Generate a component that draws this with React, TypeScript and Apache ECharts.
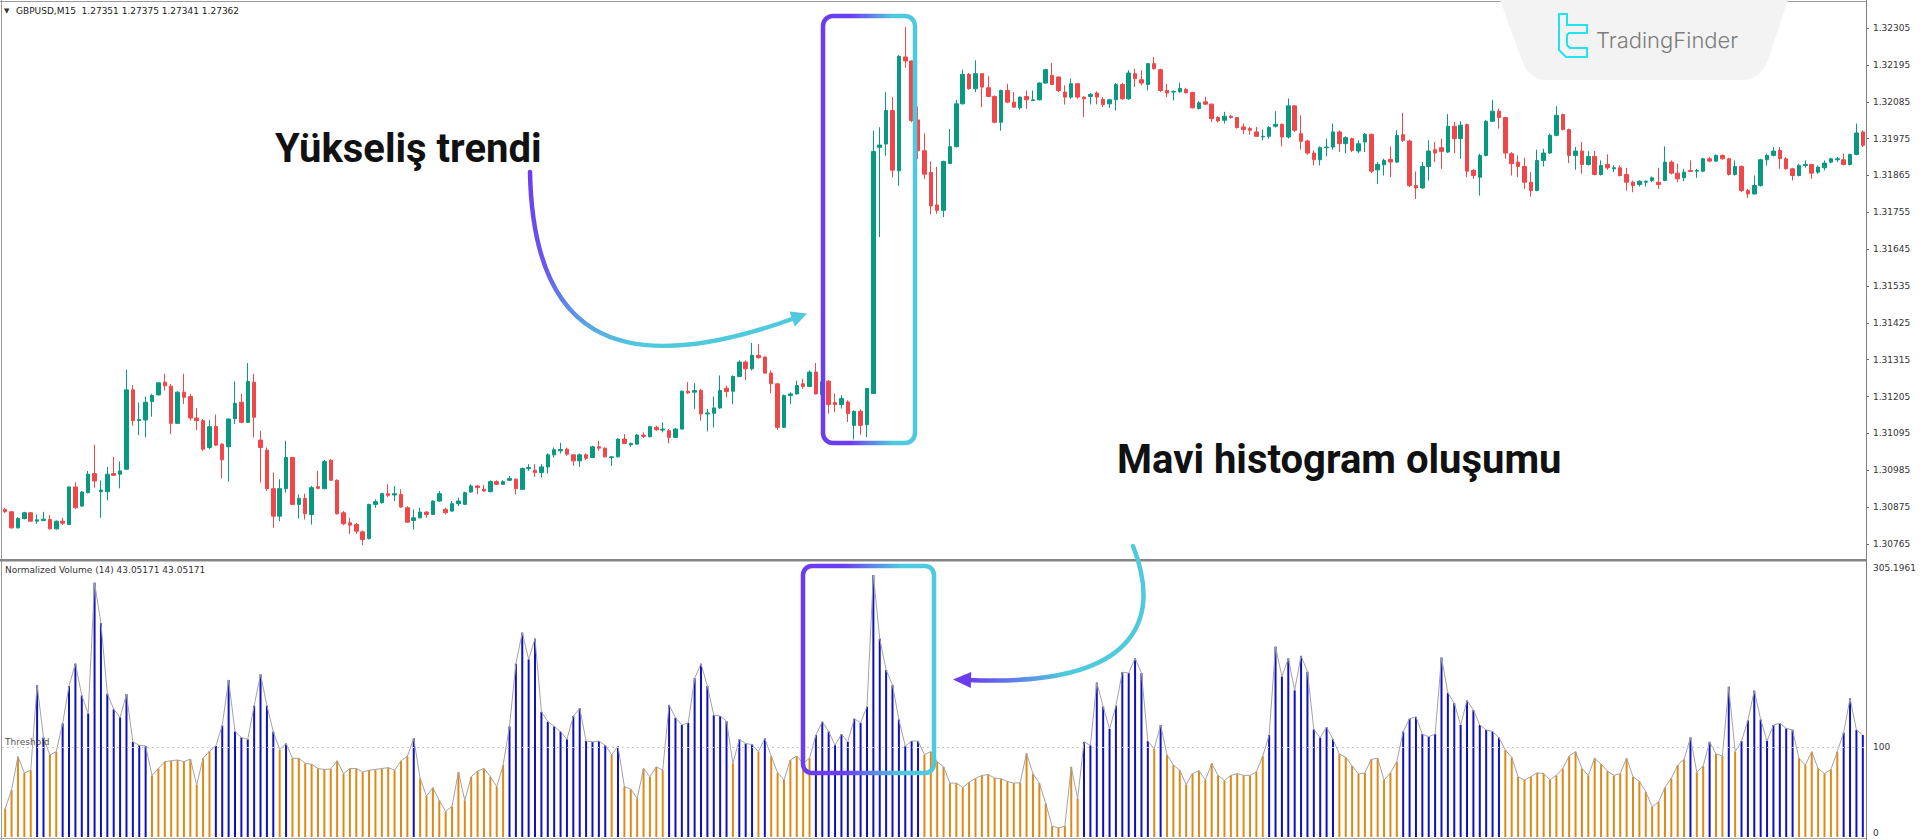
import React, { useEffect, useRef } from 'react';
import * as echarts from 'echarts';

// ---------- data ----------
const candleOpen = [
  1.30868, 1.30861, 1.30813, 1.30841, 1.30858, 1.30833, 1.30835, 1.30838, 1.30810, 1.30833,
  1.30823, 1.30935, 1.30878, 1.30918, 1.30975, 1.30921, 1.30921, 1.30975, 1.30973, 1.30988,
  1.31225, 1.31133, 1.31135, 1.31190, 1.31210, 1.31248, 1.31236, 1.31125, 1.31218, 1.31205,
  1.31141, 1.31133, 1.31053, 1.31116, 1.31063, 1.31055, 1.31139, 1.31188, 1.31128, 1.31248,
  1.31075, 1.31045, 1.30930, 1.30848, 1.30930, 1.31023, 1.30883, 1.30901, 1.30853, 1.30936,
  1.30930, 1.31015, 1.30955, 1.30858, 1.30828, 1.30823, 1.30801, 1.30781, 1.30883, 1.30888,
  1.30915, 1.30911, 1.30913, 1.30873, 1.30835, 1.30843, 1.30860, 1.30853, 1.30893, 1.30868,
  1.30863, 1.30885, 1.30883, 1.30920, 1.30938, 1.30928, 1.30921, 1.30951, 1.30943, 1.30955,
  1.30958, 1.30928, 1.30990, 1.30985, 1.30978, 1.30995, 1.31031, 1.31043, 1.31048, 1.31031,
  1.31013, 1.31031, 1.31023, 1.31055, 1.31051, 1.31023, 1.31025, 1.31078, 1.31061, 1.31063,
  1.31090, 1.31085, 1.31113, 1.31105, 1.31103, 1.31083, 1.31108, 1.31221, 1.31218, 1.31223,
  1.31153, 1.31155, 1.31171, 1.31230, 1.31221, 1.31265, 1.31308, 1.31288, 1.31328, 1.31323,
  1.31275, 1.31243, 1.31113, 1.31208, 1.31213, 1.31243, 1.31235, 1.31278, 1.31211, 1.31251,
  1.31187, 1.31181, 1.31189, 1.31119, 1.31161, 1.31121, 1.31214, 1.31949, 1.31959, 1.32059,
  1.31879, 1.32219, 1.32207, 1.32031, 1.31939, 1.31874, 1.31777, 1.31761, 1.31901, 1.31951,
  1.32079, 1.32167, 1.32124, 1.32169, 1.32127, 1.32101, 1.32024, 1.32119, 1.32084, 1.32067,
  1.32101, 1.32089, 1.32091, 1.32141, 1.32164, 1.32159, 1.32114, 1.32099, 1.32139, 1.32099,
  1.32101, 1.32111, 1.32092, 1.32079, 1.32091, 1.32137, 1.32094, 1.32169, 1.32151, 1.32137,
  1.32199, 1.32181, 1.32119, 1.32114, 1.32115, 1.32122, 1.32113, 1.32065, 1.32085, 1.32078,
  1.32038, 1.32030, 1.32042, 1.32038, 1.32010, 1.32005, 1.31995, 1.31980, 1.31982, 1.32012,
  1.32018, 1.31980, 1.32073, 1.31990, 1.31968, 1.31932, 1.31912, 1.31948, 1.31950, 1.31995,
  1.31960, 1.31975, 1.31938, 1.31965, 1.31988, 1.31882, 1.31897, 1.31913, 1.31905, 1.31987,
  1.31968, 1.31835, 1.31828, 1.31892, 1.31942, 1.31948, 1.31935, 1.32012, 1.31975, 1.32017,
  1.31880, 1.31860, 1.31925, 1.32027, 1.32057, 1.32038, 1.31930, 1.31905, 1.31892, 1.31845,
  1.31820, 1.31910, 1.31932, 1.31985, 1.32047, 1.32002, 1.31925, 1.31938, 1.31898, 1.31922,
  1.31868, 1.31898, 1.31885, 1.31888, 1.31868, 1.31845, 1.31838, 1.31845, 1.31850, 1.31845,
  1.31850, 1.31905, 1.31872, 1.31858, 1.31880, 1.31878, 1.31878, 1.31915, 1.31908, 1.31925,
  1.31915, 1.31868, 1.31892, 1.31820, 1.31810, 1.31835, 1.31912, 1.31925, 1.31940, 1.31915,
  1.31885, 1.31865, 1.31895, 1.31898, 1.31875, 1.31888, 1.31905, 1.31912, 1.31912, 1.31898,
  1.31928, 1.31995,
];

const candleClose = [
  1.30861, 1.30813, 1.30841, 1.30858, 1.30833, 1.30837, 1.30839, 1.30810, 1.30833, 1.30827,
  1.30935, 1.30873, 1.30920, 1.30973, 1.30953, 1.30926, 1.30973, 1.30970, 1.30983, 1.31225,
  1.31133, 1.31137, 1.31188, 1.31208, 1.31246, 1.31237, 1.31125, 1.31218, 1.31203, 1.31141,
  1.31133, 1.31048, 1.31115, 1.31060, 1.31016, 1.31138, 1.31185, 1.31128, 1.31250, 1.31143,
  1.31053, 1.30930, 1.30848, 1.30930, 1.31023, 1.30883, 1.30901, 1.30855, 1.30933, 1.30931,
  1.31011, 1.30955, 1.30855, 1.30825, 1.30821, 1.30803, 1.30778, 1.30883, 1.30891, 1.30915,
  1.30910, 1.30915, 1.30875, 1.30830, 1.30843, 1.30860, 1.30853, 1.30893, 1.30915, 1.30858,
  1.30885, 1.30893, 1.30918, 1.30938, 1.30933, 1.30923, 1.30951, 1.30943, 1.30951, 1.30960,
  1.30930, 1.30990, 1.30993, 1.30978, 1.30995, 1.31031, 1.31046, 1.31047, 1.31033, 1.31013,
  1.31031, 1.31021, 1.31055, 1.31051, 1.31025, 1.31025, 1.31078, 1.31065, 1.31065, 1.31090,
  1.31086, 1.31115, 1.31106, 1.31108, 1.31083, 1.31108, 1.31221, 1.31216, 1.31223, 1.31153,
  1.31156, 1.31171, 1.31223, 1.31220, 1.31265, 1.31308, 1.31288, 1.31328, 1.31321, 1.31275,
  1.31243, 1.31113, 1.31208, 1.31213, 1.31238, 1.31235, 1.31278, 1.31213, 1.31249, 1.31181,
  1.31181, 1.31199, 1.31154, 1.31161, 1.31119, 1.31229, 1.31937, 1.31956, 1.32059, 1.31881,
  1.32221, 1.32207, 1.32029, 1.31939, 1.31869, 1.31774, 1.31761, 1.31907, 1.31951, 1.32079,
  1.32167, 1.32124, 1.32169, 1.32129, 1.32101, 1.32024, 1.32119, 1.32084, 1.32069, 1.32099,
  1.32091, 1.32091, 1.32141, 1.32181, 1.32137, 1.32119, 1.32099, 1.32139, 1.32099, 1.32094,
  1.32107, 1.32099, 1.32077, 1.32091, 1.32137, 1.32094, 1.32171, 1.32154, 1.32141, 1.32199,
  1.32184, 1.32119, 1.32111, 1.32116, 1.32125, 1.32112, 1.32067, 1.32082, 1.32078, 1.32035,
  1.32028, 1.32042, 1.32038, 1.32008, 1.32002, 1.32000, 1.31982, 1.31982, 1.32008, 1.32018,
  1.31980, 1.32073, 1.32000, 1.31967, 1.31932, 1.31912, 1.31948, 1.31950, 1.31995, 1.31960,
  1.31978, 1.31940, 1.31960, 1.31988, 1.31878, 1.31898, 1.31910, 1.31905, 1.31985, 1.31970,
  1.31835, 1.31828, 1.31892, 1.31938, 1.31932, 1.31937, 1.32012, 1.31975, 1.32015, 1.31878,
  1.31865, 1.31925, 1.32027, 1.32057, 1.32038, 1.31932, 1.31900, 1.31892, 1.31845, 1.31820,
  1.31910, 1.31932, 1.31985, 1.32045, 1.32002, 1.31925, 1.31938, 1.31898, 1.31922, 1.31868,
  1.31895, 1.31888, 1.31888, 1.31865, 1.31845, 1.31835, 1.31848, 1.31848, 1.31858, 1.31838,
  1.31905, 1.31872, 1.31855, 1.31875, 1.31877, 1.31880, 1.31915, 1.31908, 1.31925, 1.31915,
  1.31868, 1.31892, 1.31820, 1.31810, 1.31835, 1.31912, 1.31925, 1.31938, 1.31915, 1.31885,
  1.31865, 1.31895, 1.31898, 1.31872, 1.31890, 1.31902, 1.31915, 1.31915, 1.31898, 1.31928,
  1.31992, 1.31955,
];

const candleLow = [
  1.30858, 1.30811, 1.30811, 1.30838, 1.30831, 1.30825, 1.30833, 1.30808, 1.30808, 1.30821,
  1.30821, 1.30870, 1.30876, 1.30916, 1.30933, 1.30843, 1.30895, 1.30968, 1.30931, 1.30987,
  1.31118, 1.31090, 1.31083, 1.31145, 1.31208, 1.31223, 1.31093, 1.31123, 1.31183, 1.31133,
  1.31105, 1.31043, 1.31048, 1.31057, 1.30961, 1.30951, 1.31123, 1.31125, 1.31126, 1.31083,
  1.30948, 1.30923, 1.30813, 1.30833, 1.30918, 1.30881, 1.30841, 1.30838, 1.30823, 1.30928,
  1.30928, 1.30953, 1.30853, 1.30821, 1.30795, 1.30795, 1.30761, 1.30778, 1.30873, 1.30885,
  1.30905, 1.30893, 1.30873, 1.30828, 1.30808, 1.30841, 1.30843, 1.30851, 1.30891, 1.30853,
  1.30861, 1.30878, 1.30881, 1.30918, 1.30913, 1.30921, 1.30919, 1.30941, 1.30941, 1.30953,
  1.30913, 1.30926, 1.30983, 1.30965, 1.30963, 1.30975, 1.31023, 1.31035, 1.31028, 1.30998,
  1.30995, 1.31015, 1.31021, 1.31043, 1.31023, 1.30998, 1.31023, 1.31063, 1.31055, 1.31061,
  1.31081, 1.31083, 1.31103, 1.31098, 1.31065, 1.31081, 1.31106, 1.31213, 1.31168, 1.31133,
  1.31101, 1.31113, 1.31168, 1.31203, 1.31183, 1.31263, 1.31255, 1.31283, 1.31318, 1.31273,
  1.31215, 1.31105, 1.31111, 1.31183, 1.31211, 1.31228, 1.31233, 1.31211, 1.31205, 1.31154,
  1.31159, 1.31169, 1.31129, 1.31077, 1.31091, 1.31084, 1.31212, 1.31681, 1.31924, 1.31859,
  1.31834, 1.32187, 1.32024, 1.31914, 1.31854, 1.31749, 1.31751, 1.31741, 1.31899, 1.31949,
  1.32077, 1.32121, 1.32114, 1.32069, 1.32099, 1.32021, 1.31999, 1.32081, 1.32067, 1.32061,
  1.32064, 1.32087, 1.32089, 1.32139, 1.32134, 1.32114, 1.32077, 1.32094, 1.32094, 1.32039,
  1.32077, 1.32077, 1.32069, 1.32067, 1.32059, 1.32091, 1.32091, 1.32129, 1.32134, 1.32119,
  1.32181, 1.32114, 1.32099, 1.32089, 1.32112, 1.32110, 1.32065, 1.32062, 1.32075, 1.32025,
  1.32023, 1.32020, 1.32035, 1.32005, 1.31988, 1.31987, 1.31980, 1.31970, 1.31975, 1.32008,
  1.31952, 1.31975, 1.31995, 1.31942, 1.31927, 1.31895, 1.31895, 1.31922, 1.31942, 1.31935,
  1.31932, 1.31935, 1.31932, 1.31935, 1.31872, 1.31840, 1.31865, 1.31860, 1.31902, 1.31965,
  1.31830, 1.31795, 1.31825, 1.31850, 1.31905, 1.31885, 1.31932, 1.31932, 1.31915, 1.31860,
  1.31855, 1.31805, 1.31922, 1.32025, 1.32005, 1.31915, 1.31865, 1.31860, 1.31825, 1.31802,
  1.31818, 1.31892, 1.31930, 1.31982, 1.32000, 1.31902, 1.31882, 1.31870, 1.31895, 1.31865,
  1.31865, 1.31882, 1.31875, 1.31862, 1.31820, 1.31815, 1.31832, 1.31832, 1.31845, 1.31825,
  1.31848, 1.31868, 1.31845, 1.31848, 1.31875, 1.31858, 1.31875, 1.31905, 1.31905, 1.31912,
  1.31865, 1.31865, 1.31815, 1.31798, 1.31808, 1.31832, 1.31895, 1.31922, 1.31885, 1.31882,
  1.31850, 1.31862, 1.31888, 1.31855, 1.31870, 1.31880, 1.31902, 1.31905, 1.31895, 1.31895,
  1.31925, 1.31950,
];

const candleHigh = [
  1.30873, 1.30863, 1.30845, 1.30861, 1.30860, 1.30853, 1.30861, 1.30851, 1.30835, 1.30843,
  1.30937, 1.30949, 1.30923, 1.30983, 1.31061, 1.30955, 1.30995, 1.31025, 1.31011, 1.31285,
  1.31239, 1.31187, 1.31205, 1.31213, 1.31248, 1.31273, 1.31243, 1.31221, 1.31273, 1.31213,
  1.31170, 1.31138, 1.31135, 1.31151, 1.31065, 1.31139, 1.31250, 1.31213, 1.31305, 1.31273,
  1.31103, 1.31053, 1.30978, 1.30958, 1.31073, 1.31025, 1.30913, 1.30915, 1.30938, 1.30983,
  1.31016, 1.31018, 1.30958, 1.30863, 1.30843, 1.30828, 1.30805, 1.30885, 1.30898, 1.30918,
  1.30943, 1.30938, 1.30928, 1.30878, 1.30868, 1.30873, 1.30863, 1.30895, 1.30923, 1.30873,
  1.30893, 1.30903, 1.30921, 1.30943, 1.30941, 1.30941, 1.30955, 1.30955, 1.30955, 1.30968,
  1.30961, 1.30993, 1.31003, 1.31003, 1.31003, 1.31035, 1.31053, 1.31067, 1.31053, 1.31033,
  1.31035, 1.31035, 1.31058, 1.31073, 1.31053, 1.31028, 1.31081, 1.31093, 1.31068, 1.31093,
  1.31098, 1.31118, 1.31118, 1.31128, 1.31108, 1.31111, 1.31223, 1.31248, 1.31245, 1.31228,
  1.31168, 1.31205, 1.31268, 1.31238, 1.31268, 1.31313, 1.31313, 1.31365, 1.31361, 1.31325,
  1.31283, 1.31245, 1.31211, 1.31218, 1.31253, 1.31258, 1.31283, 1.31305, 1.31255, 1.31254,
  1.31214, 1.31209, 1.31194, 1.31164, 1.31167, 1.31231, 1.31999, 1.32009, 1.32114, 1.32099,
  1.32224, 1.32308, 1.32209, 1.32071, 1.31991, 1.31907, 1.31891, 1.31909, 1.32004, 1.32091,
  1.32181, 1.32171, 1.32209, 1.32171, 1.32161, 1.32104, 1.32121, 1.32139, 1.32114, 1.32101,
  1.32119, 1.32119, 1.32143, 1.32184, 1.32201, 1.32161, 1.32134, 1.32154, 1.32141, 1.32101,
  1.32111, 1.32116, 1.32099, 1.32094, 1.32141, 1.32141, 1.32179, 1.32184, 1.32179, 1.32201,
  1.32219, 1.32184, 1.32139, 1.32119, 1.32142, 1.32127, 1.32115, 1.32087, 1.32100, 1.32080,
  1.32042, 1.32055, 1.32045, 1.32040, 1.32020, 1.32010, 1.32010, 1.32002, 1.32012, 1.32057,
  1.32020, 1.32095, 1.32075, 1.32045, 1.31972, 1.31940, 1.31952, 1.31975, 1.32020, 1.32000,
  1.31982, 1.31978, 1.31970, 1.31992, 1.31990, 1.31905, 1.31915, 1.31952, 1.32000, 1.32052,
  1.31972, 1.31877, 1.31905, 1.31970, 1.31965, 1.31975, 1.32048, 1.32025, 1.32027, 1.32020,
  1.31885, 1.31930, 1.32030, 1.32090, 1.32065, 1.32040, 1.31935, 1.31925, 1.31918, 1.31875,
  1.31942, 1.31945, 1.31990, 1.32072, 1.32050, 1.32005, 1.31950, 1.31965, 1.31938, 1.31938,
  1.31910, 1.31928, 1.31895, 1.31895, 1.31888, 1.31850, 1.31850, 1.31850, 1.31862, 1.31888,
  1.31952, 1.31910, 1.31900, 1.31885, 1.31910, 1.31885, 1.31918, 1.31920, 1.31928, 1.31928,
  1.31918, 1.31910, 1.31895, 1.31825, 1.31865, 1.31915, 1.31930, 1.31950, 1.31950, 1.31920,
  1.31888, 1.31900, 1.31910, 1.31900, 1.31895, 1.31910, 1.31918, 1.31920, 1.31930, 1.31930,
  1.32020, 1.32000,
];

const normalizedVolume = [
  31.8, 52.1, 89.2, 71.2, 74.1, 168.6, 110.4, 91.0, 94.7, 126.1,
  167.6, 192.4, 157.1, 137.1, 282.2, 237.3, 159.0, 141.8, 132.8, 158.6,
  105.6, 101.8, 101.0, 68.4, 76.0, 83.6, 84.6, 85.5, 83.6, 86.5,
  57.9, 87.4, 95.1, 101.0, 123.7, 174.3, 117.0, 110.4, 108.4, 145.7,
  180.5, 145.7, 117.0, 97.0, 103.7, 87.4, 87.4, 81.7, 80.8, 76.0,
  75.0, 75.4, 84.6, 70.3, 76.0, 76.0, 72.2, 74.1, 75.0, 76.0,
  77.0, 74.1, 84.6, 89.4, 109.4, 65.1, 45.4, 54.7, 40.7, 28.3,
  34.0, 72.2, 40.7, 66.9, 73.1, 76.0, 66.9, 55.9, 79.8, 122.8,
  192.4, 226.8, 197.2, 220.1, 139.0, 128.0, 122.8, 117.0, 108.4, 134.2,
  142.8, 106.5, 105.6, 106.5, 101.8, 91.3, 100.8, 55.9, 53.1, 42.6,
  76.0, 66.9, 77.9, 74.1, 146.6, 132.3, 124.3, 126.6, 176.2, 192.4,
  167.6, 135.2, 134.2, 128.5, 81.7, 108.4, 103.7, 102.7, 94.7, 109.4,
  89.8, 71.2, 63.6, 85.5, 89.8, 81.7, 87.4, 113.2, 128.0, 117.0,
  101.8, 114.2, 105.6, 131.3, 126.6, 144.7, 290.8, 220.1, 185.3, 168.6,
  130.4, 100.8, 106.5, 106.5, 91.3, 94.7, 83.6, 77.9, 59.8, 59.8,
  55.0, 60.7, 65.1, 68.4, 69.3, 65.5, 64.5, 61.7, 59.8, 60.2,
  92.8, 70.3, 59.8, 37.3, 12.0, 10.1, 12.0, 77.9, 42.6, 105.6,
  101.8, 171.4, 144.7, 119.9, 145.7, 182.9, 181.9, 198.2, 181.9, 106.5,
  97.9, 124.3, 91.3, 79.8, 74.1, 58.4, 70.3, 73.6, 63.2, 81.7,
  68.4, 62.6, 68.4, 70.3, 68.4, 68.4, 72.2, 89.8, 113.2, 211.2,
  178.1, 198.2, 162.8, 201.0, 183.5, 119.4, 110.4, 121.8, 108.4, 92.2,
  88.4, 78.9, 69.9, 71.2, 86.2, 87.4, 63.2, 71.2, 83.6, 117.0,
  131.3, 133.3, 114.2, 111.3, 114.2, 199.1, 160.0, 148.5, 124.3, 151.4,
  140.9, 124.3, 118.9, 117.0, 110.4, 96.5, 88.4, 66.9, 63.2, 66.9,
  71.2, 70.3, 63.6, 68.4, 76.0, 89.8, 94.7, 76.0, 68.4, 87.4,
  80.8, 73.1, 68.4, 70.3, 87.4, 66.9, 61.7, 50.2, 33.6, 38.8,
  55.0, 65.1, 79.8, 86.2, 110.4, 71.7, 78.9, 105.6, 92.2, 89.8,
  166.7, 94.7, 106.5, 129.4, 162.4, 130.4, 106.5, 124.3, 126.1, 120.6,
  118.9, 87.4, 79.8, 94.7, 76.0, 70.3, 75.0, 94.7, 115.8, 153.9,
  118.9, 113.2,
];

const threshold = 100;
const priceTicks = [
  1.30765, 1.30875, 1.30985, 1.31095, 1.31205, 1.31315, 1.31425, 1.31535,
  1.31645, 1.31755, 1.31865, 1.31975, 1.32085, 1.32195, 1.32305,
];
const volumeTicks = [0, 100, 305.1961];
const priceMin = 1.3072;
const priceMax = 1.32383;
const volumeMax = 305.1961;
const chartTitle = 'GBPUSD,M15  1.27351 1.27375 1.27341 1.27362';
const indicatorTitle = 'Normalized Volume (14) 43.05171 43.05171';
const thresholdLabel = 'Threshold';
const annotationTop = 'Yükseliş trendi';
const annotationBottom = 'Mavi histogram oluşumu';
const brandName = 'TradingFinder';

// ---------- styling ----------
const GREEN = '#089981';
const RED = '#F0484A';
const BLUE = '#1010c0';
const ORANGE = '#df8a17';
const PURPLE = '#6b3cf0';
const CYAN = '#4fc9dd';
const AXIS_FONT = 'DejaVu Sans';

export default function App() {
  const ref = useRef<HTMLDivElement>(null);

  useEffect(() => {
    document.body.style.margin = '0';
    const chart = echarts.init(ref.current as HTMLDivElement, null, { renderer: 'svg' });
    const cats = candleOpen.map((_, i) => String(i));
    const candleData = candleOpen.map((o, i) => [o, candleClose[i], candleLow[i], candleHigh[i]]);
    const barData = normalizedVolume.map((v) => ({
      value: v,
      itemStyle: { color: v > threshold ? BLUE : ORANGE },
    }));

    const boxGrad = () =>
      new echarts.graphic.LinearGradient(0, 0, 1, 0, [
        { offset: 0, color: PURPLE },
        { offset: 0.3, color: PURPLE },
        { offset: 0.75, color: CYAN },
        { offset: 1, color: CYAN },
      ]);

    const option: any = {
      animation: false,
      backgroundColor: '#ffffff',
      grid: [
        { left: 2, top: 2, width: 1864, height: 557 },
        { left: 2, top: 562, width: 1864, height: 275 },
      ],
      xAxis: [
        { type: 'category', gridIndex: 0, data: cats, show: false, boundaryGap: true },
        { type: 'category', gridIndex: 1, data: cats, show: false, boundaryGap: true },
      ],
      yAxis: [
        {
          type: 'value',
          gridIndex: 0,
          position: 'right',
          min: priceMin,
          max: priceMax,
          splitLine: { show: false },
          axisLine: { show: false },
          axisTick: { show: true, customValues: priceTicks, length: 3, lineStyle: { color: '#666' } },
          axisLabel: {
            customValues: priceTicks,
            formatter: (v: number) => v.toFixed(5),
            fontFamily: AXIS_FONT,
            fontSize: 9,
            color: '#333',
            margin: 7,
          },
        },
        {
          type: 'value',
          gridIndex: 1,
          position: 'right',
          min: 0,
          max: volumeMax,
          splitLine: { show: false },
          axisLine: { show: false },
          axisTick: { show: false },
          axisLabel: {
            customValues: volumeTicks,
            margin: 7,
            formatter: (v: number) => {
              if (v > 300) return '{t|' + String(volumeMax) + '}';
              if (v < 1) return '{b|0}';
              return '{m|' + String(threshold) + '}';
            },
            rich: {
              t: { fontFamily: AXIS_FONT, fontSize: 9, color: '#333', padding: [12, 0, 0, 0] },
              m: { fontFamily: AXIS_FONT, fontSize: 9, color: '#333' },
              b: { fontFamily: AXIS_FONT, fontSize: 9, color: '#333', padding: [0, 0, 8, 0] },
            },
          },
        },
      ],
      series: [
        {
          type: 'candlestick',
          xAxisIndex: 0,
          yAxisIndex: 0,
          data: candleData,
          barWidth: 4,
          itemStyle: {
            color: GREEN,
            color0: RED,
            borderColor: GREEN,
            borderColor0: RED,
            borderWidth: 1,
          },
        },
        {
          type: 'bar',
          xAxisIndex: 1,
          yAxisIndex: 1,
          data: barData,
          barWidth: 2,
          markLine: {
            silent: true,
            symbol: ['none', 'none'],
            label: { show: false },
            lineStyle: { color: '#c9c9c9', type: [2, 3], width: 1 },
            data: [{ yAxis: threshold }],
          },
        },
        {
          type: 'line',
          xAxisIndex: 1,
          yAxisIndex: 1,
          data: normalizedVolume,
          symbol: 'none',
          lineStyle: { color: '#a3a3a3', width: 1 },
          z: 3,
        },
      ],
      graphic: [
        // frame lines
        { type: 'line', z: 50, silent: true, shape: { x1: 1.5, y1: 0, x2: 1.5, y2: 840 }, style: { stroke: '#9a9a9a', lineWidth: 1 } },
        { type: 'line', z: 50, silent: true, shape: { x1: 0, y1: 1.5, x2: 1866, y2: 1.5 }, style: { stroke: '#9a9a9a', lineWidth: 1 } },
        { type: 'rect', z: 50, silent: true, shape: { x: 0, y: 559, width: 1867, height: 2.5 }, style: { fill: '#858585' } },
        { type: 'line', z: 50, silent: true, shape: { x1: 0, y1: 838.5, x2: 1866, y2: 838.5 }, style: { stroke: '#a8a8a8', lineWidth: 1 } },
        { type: 'line', z: 50, silent: true, shape: { x1: 1866.5, y1: 0, x2: 1866.5, y2: 840 }, style: { stroke: '#808080', lineWidth: 1 } },
        // pane captions
        { type: 'text', z: 60, x: 4, y: 11, style: { text: '▼', fontSize: 7, fontFamily: AXIS_FONT, fill: '#333', verticalAlign: 'middle' } },
        { type: 'text', z: 60, x: 16, y: 11, style: { text: chartTitle, fontSize: 9, fontFamily: AXIS_FONT, fill: '#222', verticalAlign: 'middle' } },
        { type: 'text', z: 60, x: 5, y: 570, style: { text: indicatorTitle, fontSize: 9, fontFamily: AXIS_FONT, fill: '#333', verticalAlign: 'middle' } },
        { type: 'text', z: 60, x: 5, y: 742, style: { text: thresholdLabel, fontSize: 9, fontFamily: AXIS_FONT, fill: '#555', verticalAlign: 'middle' } },
        // watermark
        {
          type: 'polygon', z: 70, silent: true,
          shape: { points: [[1500, 0], [1788, 0], [1768, 60], [1764, 68], [1758, 75], [1750, 79], [1742, 80], [1546, 80], [1538, 79], [1531, 75], [1526, 69], [1522, 60]] },
          style: { fill: '#f3f3f3' },
        },
        {
          type: 'polygon', z: 71, silent: true,
          shape: { points: [[1559, 14], [1567, 14], [1567, 25], [1587, 25], [1587, 33], [1569, 33], [1567, 35], [1567, 45], [1570, 48], [1587, 48], [1587, 57], [1566, 57], [1559, 50]] },
          style: { fill: 'transparent', stroke: '#22e3f0', lineWidth: 2 },
        },
        { type: 'text', z: 71, x: 1596, y: 40, style: { text: brandName, fontFamily: 'Inter', fontWeight: 300, fontSize: 22, fill: '#7d7d7d', verticalAlign: 'middle' } },
        // annotation boxes
        { type: 'rect', z: 100, silent: true, shape: { x: 823, y: 16, width: 92, height: 427, r: 10 }, style: { fill: 'transparent', stroke: boxGrad(), lineWidth: 4.5 } },
        { type: 'rect', z: 100, silent: true, shape: { x: 803, y: 566, width: 131, height: 207, r: 9 }, style: { fill: 'transparent', stroke: boxGrad(), lineWidth: 4.5 } },
        // annotation texts
        { type: 'text', z: 100, x: 275, y: 148, style: { text: annotationTop, fontFamily: 'Roboto', fontWeight: 'bold', fontSize: 40, fill: '#111', verticalAlign: 'middle' } },
        { type: 'text', z: 100, x: 1117, y: 459, style: { text: annotationBottom, fontFamily: 'Roboto', fontWeight: 'bold', fontSize: 40, fill: '#111', verticalAlign: 'middle' } },
        // arrow 1
        {
          type: 'bezierCurve', z: 100, silent: true,
          shape: { x1: 530, y1: 172, cpx1: 533, cpy1: 330, cpx2: 610, cpy2: 385, x2: 795, y2: 318 },
          style: {
            fill: null,
            lineWidth: 4.5,
            lineCap: 'round',
            stroke: new echarts.graphic.LinearGradient(0, 0, 0.4, 1, [
              { offset: 0, color: PURPLE },
              { offset: 0.5, color: '#6a58ee' },
              { offset: 1, color: CYAN },
            ]),
          },
        },
        { type: 'polygon', z: 100, silent: true, shape: { points: [[807, 313.6], [789.5, 311.5], [794.9, 326.5]] }, style: { fill: CYAN } },
        // arrow 2
        {
          type: 'bezierCurve', z: 100, silent: true,
          shape: { x1: 1133, y1: 546, cpx1: 1158, cpy1: 610, cpx2: 1150, cpy2: 688, x2: 968, y2: 680 },
          style: {
            fill: null,
            lineWidth: 4.5,
            lineCap: 'round',
            stroke: new echarts.graphic.LinearGradient(1, 0, 0, 0, [
              { offset: 0, color: CYAN },
              { offset: 0.45, color: CYAN },
              { offset: 1, color: PURPLE },
            ]),
          },
        },
        { type: 'polygon', z: 100, silent: true, shape: { points: [[953, 679.6], [971.2, 672], [970.8, 688]] }, style: { fill: PURPLE } },
      ],
    };

    chart.setOption(option);
    return () => chart.dispose();
  }, []);

  return <div ref={ref} style={{ width: 1920, height: 840 }} />;
}
